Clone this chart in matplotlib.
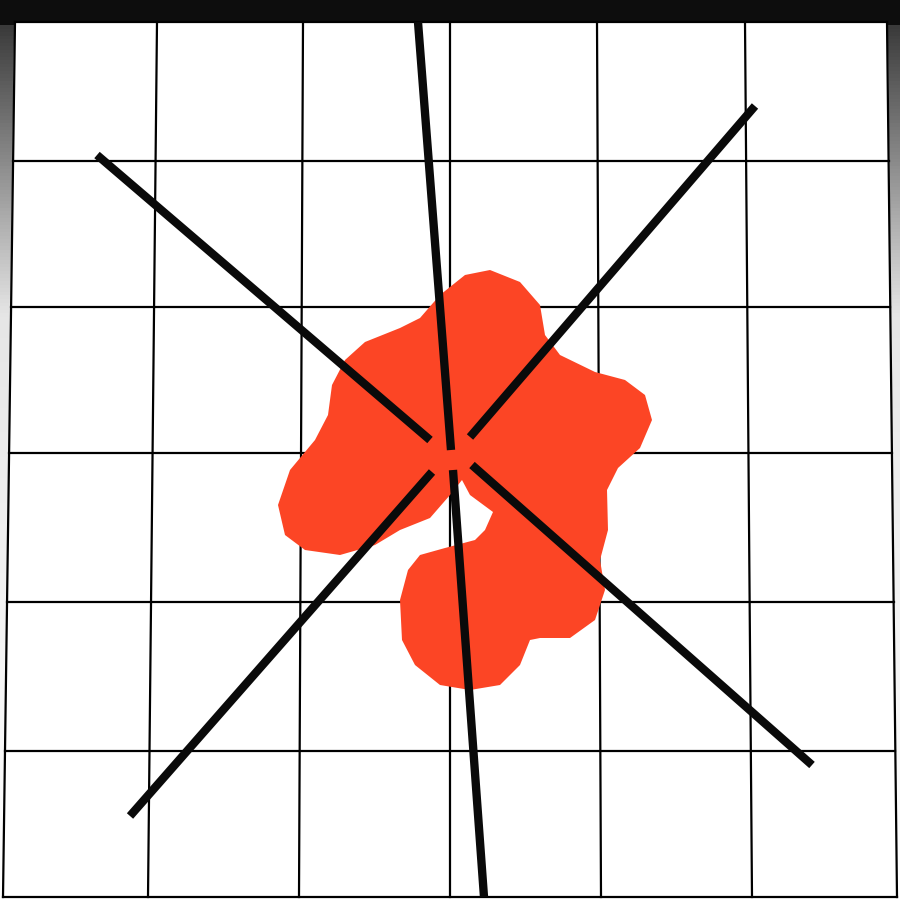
import numpy as np
import matplotlib.pyplot as plt
from matplotlib.colors import LinearSegmentedColormap

# grid line ends (top x, bottom x) and horizontal rows (left y, right y)
vert_top = [15, 157, 303, 450, 597, 745, 887]
vert_bot = [3, 148, 299, 450, 601, 752, 897]
rows_y = [22, 161, 307, 453, 602, 751, 897]

blob_x = [490, 520, 540, 545, 560, 595, 625, 645, 652, 640, 618, 607, 608, 600, 605, 595, 570, 540,
          530, 520, 500, 470, 440, 415, 402, 400, 408, 420, 445, 475, 485, 493, 470, 462, 450, 430,
          400, 375, 340, 305, 285, 278, 290, 315, 328, 332, 345, 365, 400, 420, 440, 465]
blob_y = [270, 282, 305, 335, 355, 372, 380, 395, 420, 448, 468, 490, 530, 560, 590, 620, 638, 638,
          640, 665, 685, 690, 685, 665, 640, 600, 570, 555, 548, 540, 530, 512, 495, 480, 495, 518,
          530, 545, 555, 550, 535, 505, 470, 440, 415, 385, 360, 342, 328, 318, 295, 275]

# thick strokes: (x0, y0, x1, y1)
strokes = [(418, 22, 451, 450), (453, 470, 484, 897),
           (97, 155, 430, 440), (472, 465, 812, 765),
           (755, 106, 470, 437), (432, 472, 130, 816)]

fig = plt.figure(figsize=(9, 9), dpi=100)
ax = fig.add_axes([0, 0, 1, 1])
ax.set_xlim(0, 900)
ax.set_ylim(900, 0)
ax.axis('off')

cmap = LinearSegmentedColormap.from_list('bg', [(0, '#0d0d0d'), (0.024, '#0d0d0d'), (0.026, '#3a3a3a'),
                                                (0.35, '#e6e6e6'), (1, '#ffffff')])
grad = np.linspace(0, 1, 900).reshape(-1, 1)
ax.imshow(grad, cmap=cmap, extent=[0, 900, 900, 0], aspect='auto', zorder=0)

ax.fill([vert_top[0], vert_top[-1], vert_bot[-1], vert_bot[0]],
        [rows_y[0], rows_y[0], rows_y[-1], rows_y[-1]], color='white', zorder=1)

for t, b in zip(vert_top, vert_bot):
    ax.plot([t, b], [rows_y[0], rows_y[-1]], color='black', lw=1.6, zorder=2)
for y in rows_y:
    f = (y - rows_y[0]) / (rows_y[-1] - rows_y[0])
    xl = vert_top[0] + f * (vert_bot[0] - vert_top[0])
    xr = vert_top[-1] + f * (vert_bot[-1] - vert_top[-1])
    ax.plot([xl, xr], [y, y], color='black', lw=1.6, zorder=2)

ax.fill(blob_x, blob_y, color='#fc4525', zorder=3, lw=0)

for x0, y0, x1, y1 in strokes:
    ax.plot([x0, x1], [y0, y1], color='#0a0a0a', lw=6, solid_capstyle='butt', zorder=4)

fig.savefig('out.png', dpi=100)
